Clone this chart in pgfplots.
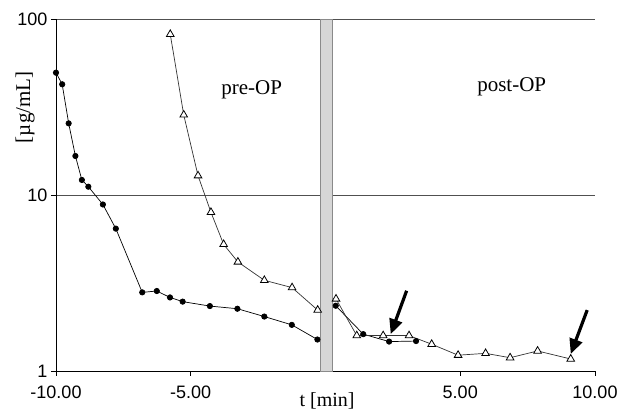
\documentclass[border=0pt]{standalone}
\usepackage{fontspec}
\setmainfont{Liberation Serif}
\newfontfamily\arialf{Liberation Sans}
\usepackage{pgfplots}
\pgfplotsset{compat=1.18}
\usetikzlibrary{arrows.meta}
\definecolor{band}{HTML}{D6D6D6}
\definecolor{bandedge}{HTML}{8A8A8A}
\definecolor{gridc}{HTML}{505050}

\begin{document}
\begin{tikzpicture}
\path[use as bounding box] (-56pt,-43pt) rectangle (566pt,371pt);
\begin{axis}[
  at={(0pt,0pt)}, anchor=south west,
  width=539pt, height=351.7pt, scale only axis,
  xmin=-10, xmax=10,
  ymode=log, ymin=1, ymax=100,
  axis lines*=left,
  xtick={-10,-5,5,10}, xticklabels={-10.00,-5.00,5.00,10.00},
  ytick={1,10,100}, yticklabels={1,10,100},
  yminorticks=false,
  ymajorgrids, grid style={color=gridc,line width=0.8pt},
  tick align=outside, major tick length=5pt,
  tick style={black,line width=0.6pt},
  axis line style={black,line width=0.8pt},
  tick label style={font=\arialf\fontsize{18}{18}\selectfont},
  xticklabel style={yshift=-6pt},
  clip=false,
]
% break between pre- and post-OP
\draw[bandedge,fill=band,line width=0.8pt] (axis cs:-0.18,1) rectangle (axis cs:0.27,100);

% pre-OP, filled circles
\addplot[black,line width=0.7pt,mark=*,mark size=2.7pt,mark options={fill=black}] coordinates {
(-10.00,49.7)(-9.77,42.7)(-9.53,25.6)(-9.28,16.7)(-9.04,12.2)(-8.80,11.17)
(-8.26,8.85)(-7.78,6.45)(-6.80,2.80)(-6.26,2.85)(-5.77,2.62)(-5.30,2.48)
(-4.29,2.34)(-3.27,2.26)(-2.27,2.04)(-1.25,1.83)(-0.30,1.51)};
% post-OP, filled circles
\addplot[black,line width=0.7pt,mark=*,mark size=2.7pt,mark options={fill=black}] coordinates {
(0.38,2.35)(1.40,1.62)(2.36,1.47)(3.36,1.48)};
% pre-OP, open triangles
\addplot[black!80,line width=0.7pt,mark=triangle*,mark size=4.4pt,mark options={fill=white,draw=black,line width=0.8pt}] coordinates {
(-5.76,82.2)(-5.26,28.6)(-4.73,12.9)(-4.25,7.99)(-3.78,5.25)(-3.25,4.17)
(-2.27,3.28)(-1.24,2.98)(-0.29,2.22)};
% post-OP, open triangles
\addplot[black!80,line width=0.7pt,mark=triangle*,mark size=4.4pt,mark options={fill=white,draw=black,line width=0.8pt}] coordinates {
(0.39,2.57)(1.16,1.59)(2.14,1.59)(3.10,1.59)(3.94,1.42)(4.92,1.23)
(5.94,1.26)(6.85,1.19)(7.87,1.30)(9.10,1.17)};

\draw[black,line width=3.2pt,-{Triangle[length=15pt,width=13pt]}] (axis cs:3.01,2.86) -- (axis cs:2.42,1.62);
\draw[black,line width=3.2pt,-{Triangle[length=15pt,width=13pt]}] (axis cs:9.71,2.22) -- (axis cs:9.10,1.25);

\node[font=\fontsize{21}{21}\selectfont] at (axis cs:-2.74,39.6) {pre-OP};
\node[font=\fontsize{21}{21}\selectfont] at (axis cs:6.91,41.4) {post-OP};
\node[font=\fontsize{20}{20}\selectfont] at (axis description cs:0.503,-0.085) {t [min]};
\node[font=\fontsize{21}{21}\selectfont,rotate=90] at (axis description cs:-0.0575,0.75) {[µg/mL]};
\end{axis}
\end{tikzpicture}
\end{document}
